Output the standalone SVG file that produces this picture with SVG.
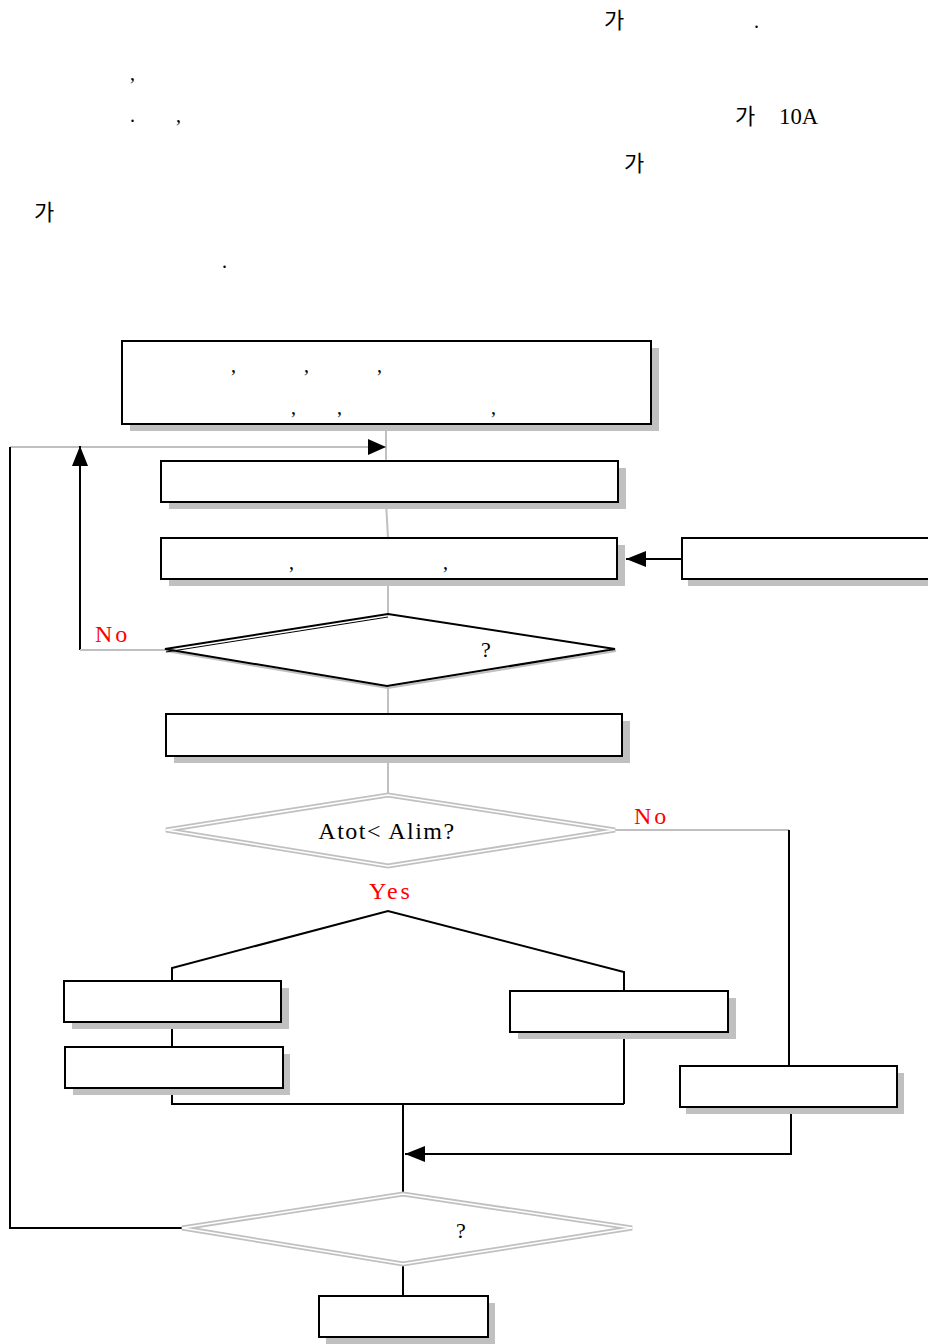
<svg xmlns="http://www.w3.org/2000/svg" width="928" height="1344" viewBox="0 0 928 1344">
  <style>
    .txt { font-family: "Liberation Serif", "Noto Sans CJK KR", serif; font-size: 20px; fill: #000; }
    .kr { font-family: "Noto Sans CJK KR", sans-serif; font-size: 22px; fill: #000; }
    .red { font-family: "Liberation Serif", serif; font-size: 24px; fill: #ff0000; letter-spacing: 3px; }
    .box { fill: #fff; stroke: #000; stroke-width: 2; }
    .shadow { fill: #c0c0c0; }
    .blk { fill: none; stroke: #000; stroke-width: 2; }
    .gry { fill: none; stroke: #c0c0c0; stroke-width: 2; }
    .dbl-out { fill: #fff; stroke: #c0c0c0; stroke-width: 5; }
    .dbl-in { fill: none; stroke: #fff; stroke-width: 1.5; }
  </style>
  <defs>
    <marker id="arrowL" viewBox="0 0 20 16" refX="20" refY="8" markerWidth="20" markerHeight="16" markerUnits="userSpaceOnUse" orient="auto">
      <path d="M0,0 L20,8 L0,16 z" fill="#000"/>
    </marker>
  </defs>

  <!-- paragraph text above the chart -->
  <g id="paragraph">
    <text class="kr" x="604" y="28">가</text>
    <text class="txt" x="754" y="28">.</text>
    <text class="txt" x="130" y="80">,</text>
    <text class="txt" x="130" y="122">.</text>
    <text class="txt" x="176" y="122">,</text>
    <text class="kr" x="735" y="124">가</text>
    <text class="txt" style="font-size:24px" transform="translate(779 124) scale(0.95 1)">10A</text>
    <text class="kr" x="624" y="171">가</text>
    <text class="kr" x="34" y="220">가</text>
    <text class="txt" x="222" y="268">.</text>
  </g>

  <!-- connectors -->
  <g id="connectors">
    <line class="gry" x1="386" y1="424" x2="386" y2="461"/>
    <polyline class="gry" points="10,447 386,447"/>
    <path d="M368,439 L386,447 L368,455 z" fill="#000"/>
    <line class="blk" x1="10" y1="447" x2="10" y2="1229"/>
    <line class="blk" x1="10" y1="1228" x2="182" y2="1228"/>
    <line class="blk" x1="80" y1="650" x2="80" y2="446" marker-end="url(#arrowL)"/>
    <line class="gry" x1="80" y1="650" x2="165" y2="650"/>
    <line class="gry" x1="386" y1="502" x2="388" y2="538"/>
    <line class="blk" x1="682" y1="559" x2="626" y2="559" marker-end="url(#arrowL)"/>
    <line class="gry" x1="388" y1="579" x2="388" y2="614"/>
    <line class="gry" x1="388" y1="686" x2="388" y2="714"/>
    <line class="gry" x1="388" y1="756" x2="388" y2="795"/>
    <line class="gry" x1="615" y1="830" x2="789" y2="830"/>
    <line class="blk" x1="789" y1="830" x2="789" y2="1066"/>
    <polyline class="blk" points="172,981 172,968 388,911 624,972 624,991"/>
    <line class="blk" x1="172" y1="1022" x2="172" y2="1047"/>
    <line class="blk" x1="624" y1="1036" x2="624" y2="1104"/>
    <polyline class="blk" points="172,1094 172,1104 624,1104"/>
    <line class="blk" x1="403" y1="1104" x2="403" y2="1192"/>
    <polyline class="blk" points="791,1113 791,1154 405,1154" marker-end="url(#arrowL)"/>
    <line class="blk" x1="403" y1="1266" x2="403" y2="1296"/>
  </g>

  <!-- process boxes -->
  <g id="box-init">
    <rect class="shadow" x="130" y="348" width="529" height="83"/>
    <rect class="box" x="122" y="341" width="529" height="83"/>
    <text class="txt" x="231" y="372">,</text>
    <text class="txt" x="304" y="372">,</text>
    <text class="txt" x="377" y="372">,</text>
    <text class="txt" x="291" y="414">,</text>
    <text class="txt" x="337" y="414">,</text>
    <text class="txt" x="491" y="414">,</text>
  </g>
  <g id="box-step1">
    <rect class="shadow" x="169" y="468" width="457" height="41"/>
    <rect class="box" x="161" y="461" width="457" height="41"/>
  </g>
  <g id="box-step2">
    <rect class="shadow" x="169" y="545" width="456" height="41"/>
    <rect class="box" x="161" y="538" width="456" height="41"/>
    <text class="txt" x="289" y="569">,</text>
    <text class="txt" x="443" y="569">,</text>
  </g>
  <g id="box-input">
    <rect class="shadow" x="688" y="545" width="250" height="41"/>
    <rect class="box" x="682" y="538" width="256" height="41"/>
  </g>
  <g id="decision-1">
    <polygon points="166,651 389,616 616,651 388,688" fill="none" stroke="#c0c0c0" stroke-width="2"/>
    <polygon points="165,649 388,614 615,649 387,686" fill="#fff" stroke="#000" stroke-width="2"/>
    <line x1="166" y1="652" x2="388" y2="617" stroke="#000" stroke-width="1"/>
    <text class="txt" x="481" y="657" style="font-size:22px">?</text>
  </g>
  <text class="red" x="95" y="642">No</text>
  <g id="box-step3">
    <rect class="shadow" x="174" y="721" width="456" height="42"/>
    <rect class="box" x="166" y="714" width="456" height="42"/>
  </g>
  <g id="decision-limit">
    <polygon class="dbl-out" points="166,830 388,795 615,830 388,866"/>
    <polygon class="dbl-in" points="166,830 388,795 615,830 388,866"/>
    <text class="txt" x="387" y="839" text-anchor="middle" style="font-size:24px;letter-spacing:1.5px">Atot&lt; Alim?</text>
  </g>
  <text class="red" x="634" y="824">No</text>
  <text class="red" x="391" y="899" text-anchor="middle">Yes</text>
  <g id="box-left-a">
    <rect class="shadow" x="72" y="988" width="217" height="41"/>
    <rect class="box" x="64" y="981" width="217" height="41"/>
  </g>
  <g id="box-left-b">
    <rect class="shadow" x="73" y="1054" width="217" height="41"/>
    <rect class="box" x="65" y="1047" width="218" height="41"/>
  </g>
  <g id="box-right">
    <rect class="shadow" x="518" y="998" width="218" height="41"/>
    <rect class="box" x="510" y="991" width="218" height="41"/>
  </g>
  <g id="box-over">
    <rect class="shadow" x="686" y="1073" width="218" height="41"/>
    <rect class="box" x="680" y="1066" width="217" height="41"/>
  </g>
  <g id="decision-end">
    <polygon class="dbl-out" points="182,1228 403,1194 632,1228 403,1264"/>
    <polygon class="dbl-in" points="182,1228 403,1194 632,1228 403,1264"/>
    <text class="txt" x="456" y="1238" style="font-size:22px">?</text>
  </g>
  <g id="box-end">
    <rect class="shadow" x="326" y="1303" width="169" height="41"/>
    <rect class="box" x="319" y="1296" width="169" height="41"/>
  </g>
</svg>
